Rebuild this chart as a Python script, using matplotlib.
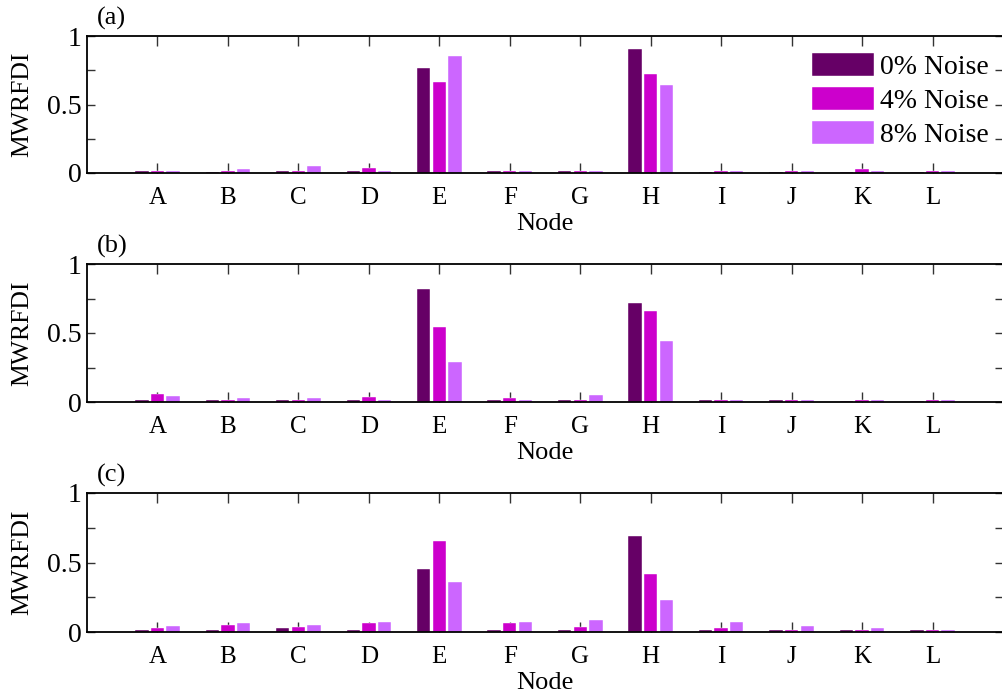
import matplotlib
matplotlib.use("Agg")
import matplotlib.pyplot as plt
import numpy as np

plt.rcParams['font.family'] = ['Liberation Serif', 'DejaVu Serif']
plt.rcParams['font.size'] = 18

nodes = ['A', 'B', 'C', 'D', 'E', 'F', 'G', 'H', 'I', 'J', 'K', 'L']
series_labels = ['0% Noise', '4% Noise', '8% Noise']
colors = ['#660066', '#CC00CC', '#CC66FF']
panel_labels = ['(a)', '(b)', '(c)']

# panel (a)
a_0 = [0.012, 0.005, 0.012, 0.012, 0.766, 0.012, 0.012, 0.905, 0.004, 0.004, 0.004, 0.004]
a_4 = [0.012, 0.012, 0.012, 0.036, 0.664, 0.012, 0.012, 0.723, 0.012, 0.012, 0.027, 0.012]
a_8 = [0.012, 0.027, 0.051, 0.012, 0.856, 0.012, 0.012, 0.642, 0.012, 0.012, 0.012, 0.012]
# panel (b)
b_0 = [0.017, 0.017, 0.017, 0.017, 0.819, 0.017, 0.017, 0.717, 0.017, 0.017, 0.007, 0.007]
b_4 = [0.060, 0.017, 0.017, 0.039, 0.546, 0.027, 0.017, 0.662, 0.017, 0.017, 0.017, 0.017]
b_8 = [0.041, 0.027, 0.027, 0.017, 0.287, 0.017, 0.051, 0.444, 0.017, 0.017, 0.017, 0.017]
# panel (c)
c_0 = [0.017, 0.017, 0.026, 0.017, 0.453, 0.017, 0.017, 0.688, 0.017, 0.017, 0.017, 0.017]
c_4 = [0.026, 0.050, 0.038, 0.062, 0.657, 0.062, 0.038, 0.417, 0.026, 0.017, 0.017, 0.017]
c_8 = [0.041, 0.062, 0.050, 0.074, 0.362, 0.074, 0.084, 0.228, 0.072, 0.041, 0.026, 0.017]

panels = [[a_0, a_4, a_8], [b_0, b_4, b_8], [c_0, c_4, c_8]]

W, H = 1003, 697
fig = plt.figure(figsize=(W / 100, H / 100), dpi=100)

tops = [36, 264, 493]
bots = [173, 402, 632]
left_px, right_px = 87, 1003

x = np.arange(1, len(nodes) + 1)
offset = 0.222
bw = 0.19

for k, (data, lab) in enumerate(zip(panels, panel_labels)):
    ax = fig.add_axes([left_px / W, 1 - bots[k] / H, (right_px - left_px) / W, (bots[k] - tops[k]) / H])
    for j, vals in enumerate(data):
        ax.bar(x + (j - 1) * offset, vals, width=bw, color=colors[j],
               edgecolor='white', linewidth=0.3, label=series_labels[j], zorder=2)
    ax.set_xlim(0, 13)
    ax.set_ylim(0, 1)
    ax.set_xticks(x)
    ax.set_xticklabels(nodes, fontsize=18)
    ax.set_yticks([0, 0.5, 1])
    ax.set_yticklabels(['0', '0.5', '1'], fontsize=20)
    ax.set_yticks([0.25, 0.75], minor=True)
    ax.tick_params(axis='both', which='both', direction='in', top=True, right=True,
                   width=1.0, color='#333333')
    ax.tick_params(axis='x', length=7, pad=10)
    ax.tick_params(axis='y', which='both', length=6, pad=4)
    ax.spines['right'].set_visible(False)
    for s in ['left', 'top', 'bottom']:
        ax.spines[s].set_linewidth(1.3)
    ax.set_ylabel('MWRFDI', labelpad=10, fontsize=18.5)
    ax.set_xlabel('Node', labelpad=3, fontsize=19)
    ax.text(0.011, 1.045, lab, transform=ax.transAxes, ha='left', va='bottom', fontsize=19)
    if k == 0:
        ax.legend(loc='upper left', bbox_to_anchor=((812 - left_px) / (right_px - left_px), (173 - 53) / 137),
                  frameon=False, borderpad=0, borderaxespad=0, handlelength=2.23,
                  handleheight=0.9, labelspacing=0.25, handletextpad=0.22, fontsize=20)

fig.savefig('out.png', dpi=100)
